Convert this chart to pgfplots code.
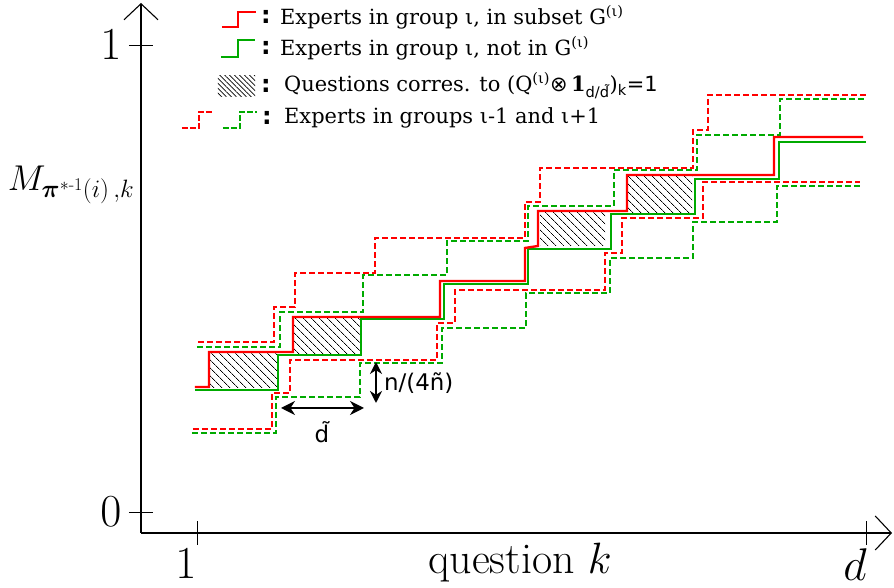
\RequirePackage{fix-cm}
\documentclass[border=0pt]{standalone}
\usepackage{amsmath,amssymb}
\usepackage{fontspec}
\usepackage{pgfplots}
\pgfplotsset{compat=1.18}
\usetikzlibrary{arrows.meta,patterns.meta}
\newfontfamily\dvserif{DejaVu Serif}
\newfontfamily\dvsans{DejaVu Sans}
\definecolor{rd}{RGB}{255,0,0}
\definecolor{gr}{RGB}{0,170,0}
\newcommand\colonmark{\dvsans\bfseries\fontsize{24}{26}\selectfont :}

\begin{document}
\begin{tikzpicture}
\begin{axis}[
  x=1bp, y=1bp,
  xmin=141, xmax=892, ymin=55, ymax=585,
  axis lines=left,
  axis line style={line width=2.2bp, -{Straight Barb[length=16bp,width=34bp,line width=1.1bp]}},
  clip=false,
  xtick={197,866}, xticklabels={$1$,$d$},
  ytick={76,543}, yticklabels={$0$,$1$},
  tick align=center, major tick length=24bp,
  tick style={black, line width=0.9bp},
  ticklabel style={font=\fontsize{46}{50}\selectfont},
  xticklabel style={xshift=-11bp},
  yticklabel style={xshift=-4bp},
  solid/.style={line width=2.4bp},
  dash/.style={line width=2bp, dash pattern=on 6bp off 3bp},
  hatch/.style={draw=none, pattern={Lines[angle=-45,distance=6bp,line width=0.9bp]}},
]
\coordinate (BL) at (axis cs:0,0);
\coordinate (TR) at (axis cs:894,588);

% hatched blocks
\addplot[hatch] coordinates {(209,200)(277,200)(277,236)(209,236)} -- cycle;
\addplot[hatch] coordinates {(293,233)(360,233)(360,271)(293,271)} -- cycle;
\addplot[hatch] coordinates {(540,342)(605,342)(605,377)(540,377)} -- cycle;
\addplot[hatch] coordinates {(627,375)(692,375)(692,413)(627,413)} -- cycle;

% groups i-1 and i+1
\addplot[rd, dash] coordinates {(198,246)(274,246)(274,281)(295,281)(295,315)(375,315)(375,350)(525,350)(525,386)(540,386)(540,420)(693,420)(693,458)(708,458)(708,493)(867,493)};
\addplot[gr, dash] coordinates {(197,241)(280,241)(280,276)(363,276)(363,313)(447,313)(447,347)(528,347)(528,382)(614,382)(614,418)(697,418)(697,453)(780,453)(780,489)(867,489)};
\addplot[rd, dash] coordinates {(193,159)(272,159)(272,195)(290,195)(290,228)(437,228)(437,265)(455,265)(455,298)(605,298)(605,335)(622,335)(622,370)(703,370)(703,406)(860,406)};
\addplot[gr, dash] coordinates {(192,155)(276,155)(276,191)(360,191)(360,225)(442,225)(442,260)(526,260)(526,295)(610,295)(610,330)(693,330)(693,366)(777,366)(777,402)(863,402)};

% group i
\addplot[gr, solid] coordinates {(195,198)(278,198)(278,233)(361,233)(361,269)(444,269)(444,304)(528,304)(528,339)(611,339)(611,374)(695,374)(695,409)(779,409)(779,446)(866,446)};
\addplot[rd, solid] coordinates {(195,201)(209,201)(209,236)(293,236)(293,271)(440,271)(440,307)(525,307)(525,340)(538,342)(538,377)(627,377)(627,413)(774,413)(774,451)(863,451)};

% annotations
\addplot[black, line width=2bp, {Stealth[length=14bp,width=14bp]}-{Stealth[length=14bp,width=14bp]}] coordinates {(281,180)(364,180)};
\addplot[black, line width=2bp, {Stealth[length=12bp,width=12bp]}-{Stealth[length=12bp,width=12bp]}] coordinates {(376,226)(376,185)};
\node at (axis cs:322,156) {\dvsans\fontsize{23}{25}\selectfont d\symbol{"0303}};
\node[anchor=west, inner sep=0pt] at (axis cs:384,205) {\dvsans\fontsize{23}{25}\selectfont n/(4ñ)};

% legend
\addplot[rd, solid] coordinates {(222,561)(238,561)(238,576)(256,576)};
\addplot[gr, solid] coordinates {(221,531)(238,531)(238,548)(255,548)};
\addplot[draw=none, pattern={Lines[angle=-45,distance=3.5bp,line width=0.7bp]}] coordinates {(218,491)(255,491)(255,512)(218,512)} -- cycle;
\addplot[rd, line width=2bp, dash pattern=on 6bp off 2bp] coordinates {(182,460)(199,460)(199,476)(213,476)};
\addplot[gr, line width=2bp, dash pattern=on 6bp off 2bp] coordinates {(223,460)(240,460)(240,476)(257,476)};
\node at (axis cs:266,571) {\colonmark};
\node at (axis cs:266,540) {\colonmark};
\node at (axis cs:266,502) {\colonmark};
\node at (axis cs:267,470) {\colonmark};
\node[anchor=west, inner sep=0pt] at (axis cs:280,571) {\dvserif\fontsize{21}{24}\selectfont Experts in group ι, in subset G\textsuperscript{(ι)}};
\node[anchor=west, inner sep=0pt] at (axis cs:280,540) {\dvserif\fontsize{21}{24}\selectfont Experts in group ι, not in G\textsuperscript{(ι)}};
\node[anchor=west, inner sep=0pt] at (axis cs:284,502) {\dvserif\fontsize{21}{24}\selectfont Questions corres. to (Q\textsuperscript{(ι)}{\dvsans⊗}\,\textbf{1}\textsubscript{\dvsans d/d\symbol{"0303}}){\dvsans\textsubscript{k}=1}};
\node[anchor=west, inner sep=0pt] at (axis cs:284,470) {\dvserif\fontsize{21}{24}\selectfont Experts in groups ι-1 and ι+1};

% axis labels
\node at (axis cs:71,403) {\fontsize{36}{40}\selectfont $M_{\boldsymbol{\pi}^{*\text{-}1}(i)\,,k}$};
\node at (axis cs:520,25) {\fontsize{44}{48}\selectfont question $k$};
\end{axis}
\pgfresetboundingbox
\path (BL) rectangle (TR);
\end{tikzpicture}
\end{document}
